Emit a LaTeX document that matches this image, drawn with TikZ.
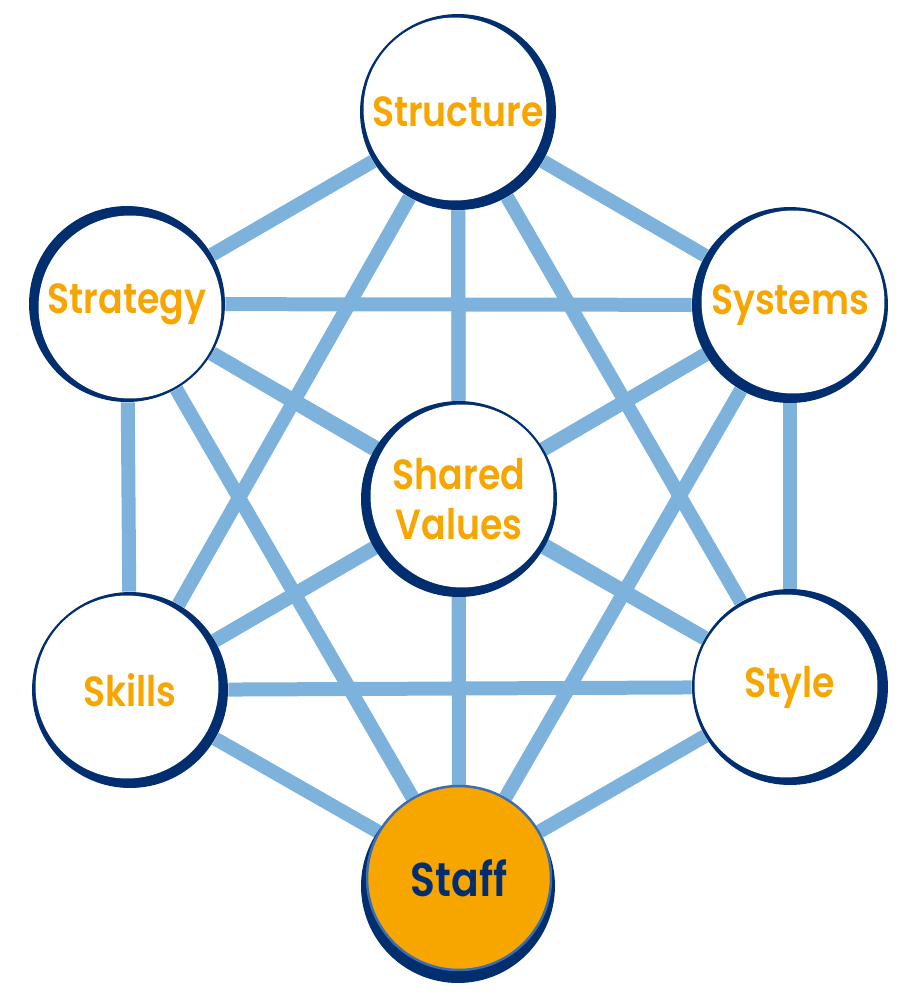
\documentclass[tikz,border=0pt]{standalone}
\usepackage{fontspec}
\setmainfont{Poppins}[BoldFont={Poppins SemiBold}, FakeStretch=0.86]
\usetikzlibrary{backgrounds}
\definecolor{navy}{RGB}{0,46,110}
\definecolor{skyline}{RGB}{125,178,220}
\definecolor{gold}{RGB}{247,166,0}
\definecolor{rimblue}{RGB}{60,110,175}

\begin{document}
\begin{tikzpicture}[x=0.02cm,y=-0.02cm,
    ring/.style 2 args={circle, fill=navy, minimum size=3.92cm, inner sep=0pt, align=center,
      text=gold, font=\bfseries\fontsize{24}{28}\selectfont,
      path picture={\fill[white] ([shift={(#1,#2)}]path picture bounding box.center) circle (1.83cm);}},
    link/.style={line width=0.28cm, skyline}]
  \useasboundingbox (0,0) rectangle (922,1002);
  % the six outer circles and the centre
  \node[ring={-3}{-3}] (structure) at (458,112) {Structure};
  \node[ring={3}{3}] (strategy) at (127,304) {Strategy};
  \node[ring={3}{-3}] (systems) at (790,305) {Systems};
  \node[ring={3}{-3}] (shared) at (459,499) {Shared\\Values};
  \node[ring={-3}{-3}] (skills) at (130,690) {Skills};
  \node[ring={-4}{-1}] (style) at (790,687) {Style};
  % staff, with its shadow
  \fill[navy] (458,886) circle (1.94cm);
  \node[circle, fill=gold, draw=rimblue, line width=0.05cm, minimum size=3.68cm, inner sep=0pt,
    text=navy, font=\bfseries\fontsize{27}{28}\selectfont] (staff) at (459,878) {Staff};
  % links
  \begin{scope}[on background layer]
    \foreach \a/\b in {structure/strategy, structure/systems, structure/shared, structure/skills,
        structure/style, structure/staff, strategy/systems, strategy/shared, strategy/skills,
        strategy/style, strategy/staff, systems/shared, systems/skills, systems/style,
        systems/staff, shared/skills, shared/style, shared/staff, skills/style, skills/staff,
        style/staff}
      \draw[link] (\a) -- (\b);
  \end{scope}
\end{tikzpicture}
\end{document}
